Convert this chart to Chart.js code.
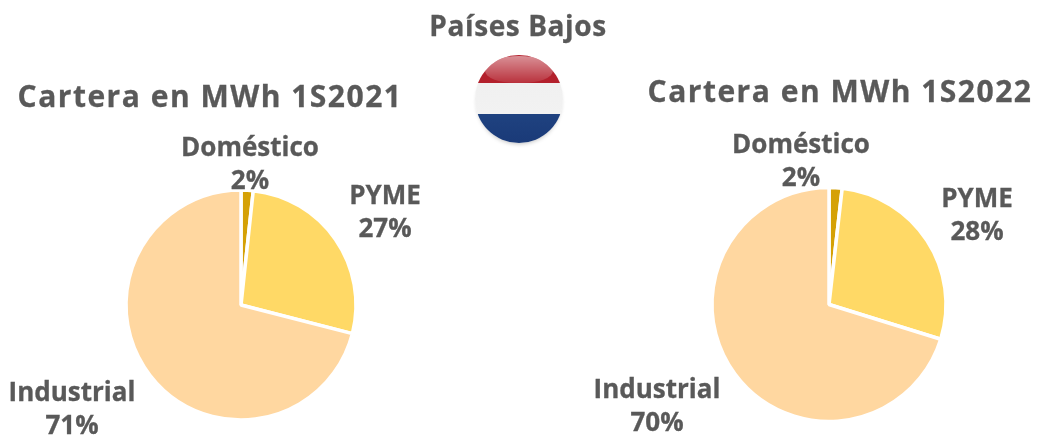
<!DOCTYPE html>
<html><head><meta charset="utf-8">
<script src="https://cdn.jsdelivr.net/npm/chart.js@4"></script>
<style>
html,body{margin:0;padding:0;background:#fff;width:1037px;height:436px;overflow:hidden}
canvas{position:absolute;top:0}
.t{position:absolute;font-family:"Open Sans",sans-serif;font-weight:700;color:#595959;white-space:nowrap;text-align:center;transform:translateX(-50%);-webkit-text-stroke:.3px #595959}
.ttl{font-size:30px;line-height:36px;letter-spacing:1.5px}
.cty{font-size:28px;line-height:32px;letter-spacing:.6px}
.lab{font-size:26px;line-height:33px;letter-spacing:0}
#flag{position:absolute;left:475px;top:55px;width:88px;height:88px;border-radius:50%;overflow:hidden;
background:linear-gradient(180deg,#b3202c 0,#b3202c 32%,#f0f0f0 32%,#f2f2f2 67%,#1f4280 67%,#1a3a78 100%);box-shadow:0 3px 4px -2px rgba(0,0,0,.25)}
#gloss{position:absolute;left:10px;top:1px;width:68px;height:27px;border-radius:50% 50% 45% 45%;background:linear-gradient(180deg,rgba(255,255,255,.5),rgba(255,255,255,.08))}
</style></head><body>
<canvas id="c1" style="left:0"></canvas>
<canvas id="c2" style="left:519px"></canvas>
<div class="t cty" style="left:518px;top:9px">Países Bajos</div>
<div id="flag"><div id="gloss"></div></div>
<script>
const categories=["Doméstico","PYME","Industrial"];
const values2021=[1.7,27.3,71];
const values2022=[1.8,28,70.2];
const titles=["Cartera en MWh 1S2021","Cartera en MWh 1S2022"];
const colors=["#D5A106","#FFD966","#FFD7A0"];

function addText(cls,x,y,txt){const d=document.createElement('div');d.className='t '+cls;d.style.left=x+'px';d.style.top=y+'px';d.innerHTML=txt;document.body.appendChild(d);}
function makePie(id,w,vals,radius,pad){
  const cv=document.getElementById(id);cv.width=w;cv.height=436;cv.style.width=w+'px';cv.style.height='436px';
  new Chart(cv,{type:'pie',data:{labels:categories,datasets:[{data:vals,backgroundColor:colors,borderColor:'#fff',borderWidth:3.5,radius:radius}]},
  options:{responsive:false,animation:false,layout:{padding:pad},plugins:{legend:{display:false},tooltip:{enabled:false},title:{display:false}}}});
}
makePie('c1',519,values2021,115,{left:0,right:37,top:174,bottom:0});
makePie('c2',518,values2022,117,{left:102,right:0,top:173,bottom:0});
addText('ttl',210,78,titles[0]);
addText('ttl',840,73,titles[1]);
const pos1=[[250,130],[385,178],[72,375]],pos2=[[801,127],[977,181],[657,372]];
categories.forEach((c,i)=>{
  addText('lab',pos1[i][0],pos1[i][1],c+'<br>'+Math.round(values2021[i])+'%');
  addText('lab',pos2[i][0],pos2[i][1],c+'<br>'+Math.round(values2022[i])+'%');
});
</script></body></html>
